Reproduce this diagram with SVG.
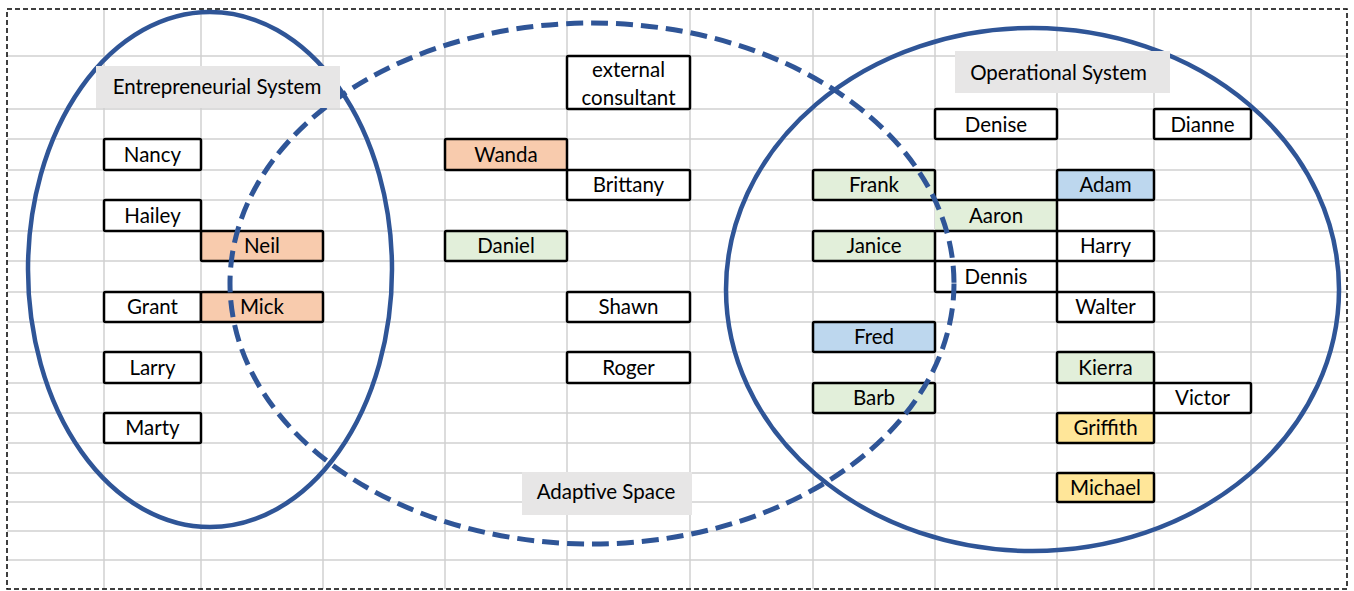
<svg xmlns="http://www.w3.org/2000/svg" width="1354" height="591" viewBox="0 0 1354 591">
  <style>
    .grid line { stroke: #d0d0d0; stroke-width: 1.5; }
    .frame { fill: none; stroke: #000; stroke-width: 1.5; stroke-dasharray: 5 3; }
    .cell { stroke: #000; stroke-width: 2.5; }
    .plain { fill: #ffffff; }
    .peach { fill: #f8cbad; }
    .green { fill: #e2efda; }
    .blue { fill: #bdd7ee; }
    .yellow { fill: #ffe699; }
    text { font-family: Lato, "Open Sans", "Liberation Sans", sans-serif; font-size: 20.5px; fill: #000; text-anchor: middle; }
    .sys { fill: none; stroke: #2f5597; stroke-width: 4.5; }
    .space { fill: none; stroke: #2f5597; stroke-width: 5; stroke-dasharray: 17 8; }
    .label rect { fill: #e7e6e6; }
  </style>

  <rect width="1354" height="591" fill="#ffffff"/>

  <!-- worksheet grid -->
  <g class="grid">
    <line x1="104" y1="9" x2="104" y2="589"/>
    <line x1="201" y1="9" x2="201" y2="589"/>
    <line x1="323" y1="9" x2="323" y2="589"/>
    <line x1="445" y1="9" x2="445" y2="589"/>
    <line x1="567" y1="9" x2="567" y2="589"/>
    <line x1="690" y1="9" x2="690" y2="589"/>
    <line x1="813" y1="9" x2="813" y2="589"/>
    <line x1="935" y1="9" x2="935" y2="589"/>
    <line x1="1057" y1="9" x2="1057" y2="589"/>
    <line x1="1154" y1="9" x2="1154" y2="589"/>
    <line x1="1251" y1="9" x2="1251" y2="589"/>
    <line x1="7" y1="56" x2="1347" y2="56"/>
    <line x1="7" y1="109" x2="1347" y2="109"/>
    <line x1="7" y1="139" x2="1347" y2="139"/>
    <line x1="7" y1="170" x2="1347" y2="170"/>
    <line x1="7" y1="200" x2="1347" y2="200"/>
    <line x1="7" y1="231" x2="1347" y2="231"/>
    <line x1="7" y1="261" x2="1347" y2="261"/>
    <line x1="7" y1="292" x2="1347" y2="292"/>
    <line x1="7" y1="322" x2="1347" y2="322"/>
    <line x1="7" y1="352" x2="1347" y2="352"/>
    <line x1="7" y1="383" x2="1347" y2="383"/>
    <line x1="7" y1="413" x2="1347" y2="413"/>
    <line x1="7" y1="443" x2="1347" y2="443"/>
    <line x1="7" y1="473" x2="1347" y2="473"/>
    <line x1="7" y1="502" x2="1347" y2="502"/>
    <line x1="7" y1="531" x2="1347" y2="531"/>
    <line x1="7" y1="560" x2="1347" y2="560"/>
  </g>

  <rect class="frame" x="7" y="9" width="1340" height="580"/>

  <!-- people -->
  <g id="nancy"><rect class="cell plain" x="104" y="139" width="97" height="31" rx="1.5"/><text x="152.5" y="162">Nancy</text></g>
  <g id="hailey"><rect class="cell plain" x="104" y="200" width="97" height="31" rx="1.5"/><text x="152.5" y="223">Hailey</text></g>
  <g id="neil"><rect class="cell peach" x="201" y="231" width="122" height="30" rx="1.5"/><text x="262" y="253">Neil</text></g>
  <g id="grant"><rect class="cell plain" x="104" y="292" width="97" height="30" rx="1.5"/><text x="152.5" y="314">Grant</text></g>
  <g id="mick"><rect class="cell peach" x="201" y="292" width="122" height="30" rx="1.5"/><text x="262" y="314">Mick</text></g>
  <g id="larry"><rect class="cell plain" x="104" y="352" width="97" height="31" rx="1.5"/><text x="152.5" y="375">Larry</text></g>
  <g id="marty"><rect class="cell plain" x="104" y="413" width="97" height="30" rx="1.5"/><text x="152.5" y="435">Marty</text></g>

  <g id="external-consultant"><rect class="cell plain" x="567" y="56" width="123" height="53" rx="1.5"/><text x="628.5" y="77">external</text><text x="628.5" y="105">consultant</text></g>
  <g id="wanda"><rect class="cell peach" x="445" y="139" width="122" height="31" rx="1.5"/><text x="506" y="162">Wanda</text></g>
  <g id="brittany"><rect class="cell plain" x="567" y="170" width="123" height="30" rx="1.5"/><text x="628.5" y="192">Brittany</text></g>
  <g id="daniel"><rect class="cell green" x="445" y="231" width="122" height="30" rx="1.5"/><text x="506" y="253">Daniel</text></g>
  <g id="shawn"><rect class="cell plain" x="567" y="292" width="123" height="30" rx="1.5"/><text x="628.5" y="314">Shawn</text></g>
  <g id="roger"><rect class="cell plain" x="567" y="352" width="123" height="31" rx="1.5"/><text x="628.5" y="375">Roger</text></g>

  <g id="denise"><rect class="cell plain" x="935" y="109" width="122" height="30" rx="1.5"/><text x="996" y="132">Denise</text></g>
  <g id="dianne"><rect class="cell plain" x="1154" y="109" width="97" height="30" rx="1.5"/><text x="1202.5" y="132">Dianne</text></g>
  <g id="frank"><rect class="cell green" x="813" y="170" width="122" height="30" rx="1.5"/><text x="874" y="192">Frank</text></g>
  <g id="adam"><rect class="cell blue" x="1057" y="170" width="97" height="30" rx="1.5"/><text x="1105.5" y="192">Adam</text></g>
  <g id="aaron"><rect class="green" x="935" y="200" width="122" height="31"/><path class="cell" fill="none" d="M935 200 H1057 V231 H935"/><text x="996" y="223">Aaron</text></g>
  <g id="janice"><rect class="cell green" x="813" y="231" width="122" height="30" rx="1.5"/><text x="874" y="253">Janice</text></g>
  <g id="harry"><rect class="cell plain" x="1057" y="231" width="97" height="30" rx="1.5"/><text x="1105.5" y="253">Harry</text></g>
  <g id="dennis"><rect class="cell plain" x="935" y="261" width="122" height="31" rx="1.5"/><text x="996" y="284">Dennis</text></g>
  <g id="walter"><rect class="cell plain" x="1057" y="292" width="97" height="30" rx="1.5"/><text x="1105.5" y="314">Walter</text></g>
  <g id="fred"><rect class="cell blue" x="813" y="322" width="122" height="30" rx="1.5"/><text x="874" y="344">Fred</text></g>
  <g id="kierra"><rect class="cell green" x="1057" y="352" width="97" height="31" rx="1.5"/><text x="1105.5" y="375">Kierra</text></g>
  <g id="barb"><rect class="cell green" x="813" y="383" width="122" height="30" rx="1.5"/><text x="874" y="405">Barb</text></g>
  <g id="victor"><rect class="cell plain" x="1154" y="383" width="97" height="30" rx="1.5"/><text x="1202.5" y="405">Victor</text></g>
  <g id="griffith"><rect class="cell yellow" x="1057" y="413" width="97" height="30" rx="1.5"/><text x="1105.5" y="435">Griffith</text></g>
  <g id="michael"><rect class="cell yellow" x="1057" y="473" width="97" height="29" rx="1.5"/><text x="1105.5" y="495">Michael</text></g>

  <!-- system boundaries -->
  <g id="boundaries">
    <ellipse class="sys" cx="210" cy="269.5" rx="182" ry="257.5"/>
    <ellipse class="space" cx="592" cy="283.5" rx="362" ry="260.5"/>
    <ellipse class="sys" cx="1032.5" cy="289.5" rx="306.5" ry="261.5"/>
  </g>

  <!-- boundary captions -->
  <g id="entrepreneurial-label" class="label"><rect x="96" y="66" width="244" height="42"/><text x="217" y="94">Entrepreneurial System</text></g>
  <g id="operational-label" class="label"><rect x="955" y="51" width="215" height="42"/><text x="1058.5" y="80">Operational System</text></g>
  <g id="adaptive-label" class="label"><rect x="522" y="472" width="170" height="43"/><text x="606" y="499">Adaptive Space</text></g>
</svg>
